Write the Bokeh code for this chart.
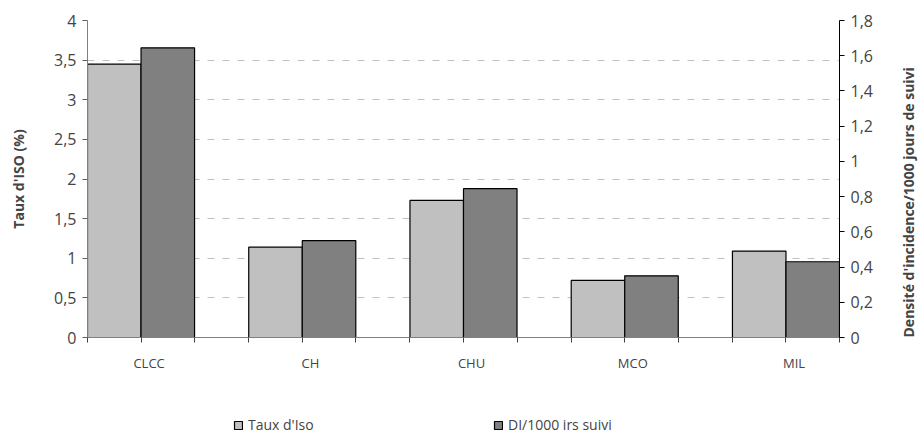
import math
from bokeh.plotting import figure
from bokeh.layouts import column
from bokeh.models import (Range1d, LinearAxis, FixedTicker, CustomJSTickFormatter,
                          ColumnDataSource, Legend, LegendItem)
from bokeh.embed import file_html
from bokeh.resources import INLINE

categories = ["CLCC", "CH", "CHU", "MCO", "MIL"]
taux_iso = [3.45, 1.14, 1.73, 0.72, 1.09]          # left axis (%)
di_1000 = [1.645, 0.55, 0.845, 0.35, 0.43]          # right axis
left_ticks = [0, 0.5, 1, 1.5, 2, 2.5, 3, 3.5, 4]
right_ticks = [0, 0.2, 0.4, 0.6, 0.8, 1.0, 1.2, 1.4, 1.6, 1.8]
series_names = ["Taux d'Iso", "DI/1000 irs suivi"]

FONT = "Open Sans"
W = 0.332        # bar width in category units
LBL_SHIFT = 0.05  # category label shift (style)
LIGHT, DARK = "#c0c0c0", "#808080"

idx = list(range(len(categories)))
src = ColumnDataSource(dict(
    cat=categories,
    xl=[i - W / 2 for i in idx],
    xr=[i + W / 2 for i in idx],
    left=taux_iso,
    right=di_1000,
))

p = figure(width=920, height=410, frame_width=752, frame_height=317,
           output_backend="svg", toolbar_location=None,
           x_range=Range1d(-W, len(idx) - 1 + W),
           y_range=Range1d(left_ticks[0], left_ticks[-1]),
           min_border_left=87, min_border_right=81, min_border_top=20,
           min_border_bottom=73)
p.extra_y_ranges = {"right": Range1d(right_ticks[0], right_ticks[-1])}
p.outline_line_color = None
p.background_fill_color = "white"
p.border_fill_color = "white"

# grid
p.xgrid.visible = False
lt = FixedTicker(ticks=left_ticks)
p.ygrid.ticker = lt
p.ygrid.grid_line_color = "#c0c0c0"
p.ygrid.grid_line_dash = "7 8"
p.ygrid.grid_line_width = 1

# bars
light = p.vbar(x="xl", width=W, top="left", bottom=0, source=src,
               fill_color=LIGHT, line_color="black", line_width=1.2)
dark = p.vbar(x="xr", width=W, top="right", bottom=0, source=src,
              y_range_name="right",
              fill_color=DARK, line_color="black", line_width=1.2)

num_fmt = "return String(Math.round(tick*10)/10).replace('.', ',');"

# left axis
ya = p.yaxis[0]
ya.ticker = lt
ya.formatter = CustomJSTickFormatter(code=num_fmt)
ya.axis_label = "Taux d'ISO (%)"
ya.axis_label_text_font = FONT
ya.axis_label_text_font_style = "bold"
ya.axis_label_text_font_size = "14px"
ya.axis_label_standoff = 23
ya.major_label_text_font = FONT
ya.major_label_text_font_size = "16px"
ya.major_label_standoff = 6
ya.major_tick_out = 5
ya.major_tick_in = 0
ya.minor_tick_out = 0
ya.minor_tick_in = 0
ya.axis_line_color = "#808080"
ya.major_tick_line_color = "#606060"

# right axis
ra = LinearAxis(y_range_name="right", ticker=FixedTicker(ticks=right_ticks),
                formatter=CustomJSTickFormatter(code=num_fmt))
ra.axis_label = "Densité d'incidence/1000 jours de suivi"
ra.axis_label_text_font = FONT
ra.axis_label_text_font_style = "bold"
ra.axis_label_text_font_size = "14px"
ra.axis_label_standoff = 33
ra.axis_label_orientation = math.pi / 2
if "axis_label_align" in ra.properties():
    ra.axis_label_align = "start"
ra.major_label_text_font = FONT
ra.major_label_text_font_size = "16px"
ra.major_label_standoff = 6
ra.major_tick_out = 5
ra.major_tick_in = 0
ra.minor_tick_out = 0
ra.minor_tick_in = 0
ra.axis_line_color = "black"
ra.major_tick_line_color = "black"
p.add_layout(ra, "right")

# bottom axis: tick marks at bar edges and pair centers, category labels
edges = []
for i in idx:
    edges += [i - W, i, i + W]
xa = p.xaxis[0]
xa.ticker = FixedTicker(ticks=[i + LBL_SHIFT for i in idx], minor_ticks=edges)
xa.formatter = CustomJSTickFormatter(args=dict(cats=categories),
                                     code="return cats[Math.round(tick)];")
xa.major_label_text_font = FONT
xa.major_label_text_font_size = "13px"
xa.major_label_standoff = 11
xa.major_tick_out = 0
xa.major_tick_in = 0
xa.minor_tick_out = 5
xa.minor_tick_in = 0
xa.axis_line_color = "#808080"
xa.minor_tick_line_color = "#404040"

# legend strip below the chart (legend keys reuse the same series, kept hidden)
q = figure(width=920, height=24, output_backend="svg", toolbar_location=None,
           x_axis_location=None, y_axis_location=None,
           min_border_left=0, min_border_right=0, min_border_top=0, min_border_bottom=0,
           x_range=Range1d(0, 1), y_range=Range1d(0, 1))
q.outline_line_color = None
q.xgrid.visible = False
q.ygrid.visible = False
q.background_fill_color = "white"
q.border_fill_color = "white"
kl = q.vbar(x="xl", width=W, top="left", bottom=0, source=src,
            fill_color=LIGHT, line_color="black", line_width=1.2, visible=False)
kd = q.vbar(x="xr", width=W, top="right", bottom=0, source=src,
            fill_color=DARK, line_color="black", line_width=1.2, visible=False)
lg = Legend(items=[LegendItem(label=series_names[0], renderers=[kl]),
                   LegendItem(label=series_names[1], renderers=[kd])],
            location=(146, 0), orientation="horizontal",
            glyph_width=10, glyph_height=10, label_height=10, label_width=245,
            label_standoff=5, padding=0, margin=0, spacing=0,
            border_line_color=None, background_fill_alpha=0,
            inactive_fill_alpha=0,
            label_text_font=FONT, label_text_font_size="14px")
q.add_layout(lg, "center")

page = column(p, q, spacing=0)
open("out.html", "w").write(file_html(page, INLINE))
